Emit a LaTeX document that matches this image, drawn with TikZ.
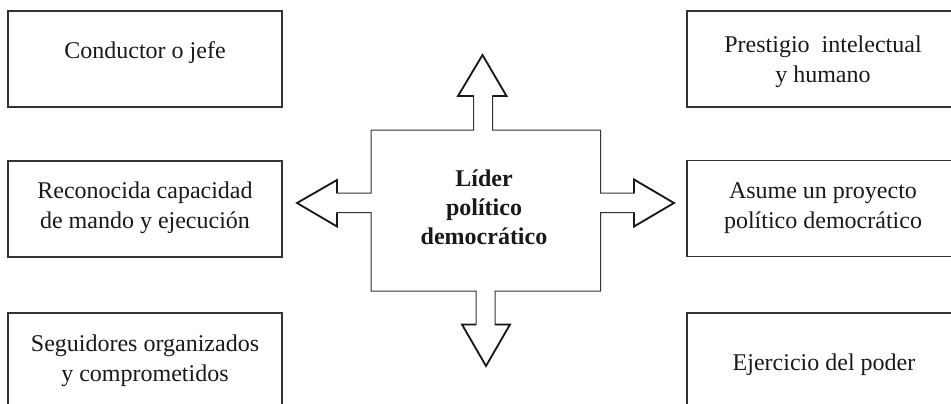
\documentclass[tikz,border=0pt]{standalone}
\usepackage{fontspec}
\setmainfont{Liberation Serif}
\begin{document}
\begin{tikzpicture}[x=1pt,y=-1pt,
  box/.style={draw=black!80, line width=1.1pt, minimum width=274pt, minimum height=96pt, inner sep=0pt},
  txt/.style={align=center, text=black!90, font=\fontsize{24}{30}\selectfont, inner sep=0pt},
  outline/.style={draw=black!80, line width=1pt, line join=miter},
  head/.style={draw=black!90, line width=1.8pt, line join=miter}]
\clip (0,0) rectangle (951,404);
\fill[white] (0,0) rectangle (951,404);
% boxes
\node[box] (b1) at (145,59) {};
\node[box] (b2) at (145,209) {};
\node[box] (b3) at (145,361) {};
\node[box] (b4) at (824,59) {};
\node[box] (b5) at (824,208.5) {};
\node[box] (b6) at (824,361) {};
% texts
\node[txt] (t1) at (145,53) {Conductor o jefe};
\node[txt] (t2) at (145,208) {Reconocida capacidad\\de mando y ejecución};
\node[txt] (t3) at (145,361) {Seguidores organizados\\y comprometidos};
\node[txt] (t4) at (823,62) {Prestigio~ intelectual\\y humano};
\node[txt] (t5) at (823,208) {Asume un proyecto\\político democrático};
\node[txt] (t6) at (824,365) {Ejercicio del poder};
% central shape
\draw[outline] (371,130) -- (473.5,130) -- (473.5,96) -- (458,96) -- (482.5,55) -- (506.5,96) -- (492.5,96) -- (492.5,130)
  -- (600.5,130) -- (600.5,193) -- (634,193) -- (634,179.5) -- (674,203) -- (634,226.5) -- (634,212.5) -- (600.5,212.5)
  -- (600.5,291) -- (495,291) -- (495,324.5) -- (510,324.5) -- (486,366) -- (462,324.5) -- (476,324.5) -- (476,291)
  -- (371,291) -- (371,212.5) -- (337,212.5) -- (337,226.5) -- (297,203) -- (337,180) -- (337,193) -- (371,193) -- cycle;
% heavier arrow heads
\draw[head] (473.5,96) -- (458,96) -- (482.5,55) -- (506.5,96) -- (492.5,96);
\draw[head] (634,193) -- (634,179.5) -- (674,203) -- (634,226.5) -- (634,212.5);
\draw[head] (495,324.5) -- (510,324.5) -- (486,366) -- (462,324.5) -- (476,324.5);
\draw[head] (337,212.5) -- (337,226.5) -- (297,203) -- (337,180) -- (337,193);
\node[txt, font=\fontsize{24}{29}\selectfont\bfseries] (leader) at (484,207) {Líder\\político\\democrático};
\end{tikzpicture}
\end{document}
